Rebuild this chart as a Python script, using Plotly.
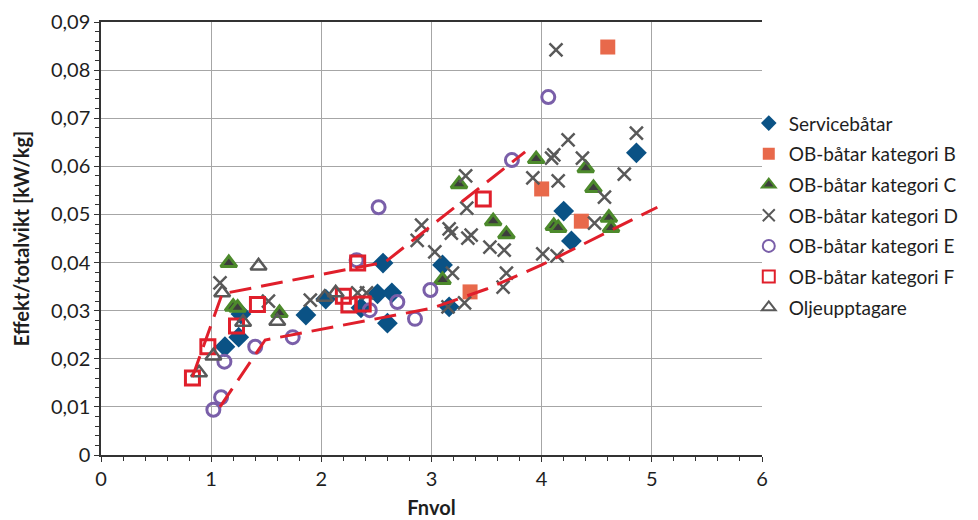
import plotly.graph_objects as go

# ---------------- data ----------------
service_x = [1.125, 1.25, 1.27, 1.86, 2.04, 2.36, 2.51, 2.64, 2.56, 2.60, 3.10, 3.16, 4.20, 4.27, 4.86]
service_y = [0.0225, 0.0245, 0.0293, 0.0291, 0.0324, 0.0306, 0.0335, 0.0337, 0.0399, 0.0274, 0.0395, 0.0308, 0.0507, 0.0445, 0.0628]

kat_b_x = [4.60, 4.00, 4.36, 3.35]
kat_b_y = [0.0848, 0.0553, 0.0486, 0.0339]

kat_c_x = [1.16, 1.20, 1.24, 1.62, 3.25, 3.95, 4.40, 4.47, 3.56, 3.68, 4.11, 4.15, 4.61, 4.63, 3.10]
kat_c_y = [0.0399, 0.0308, 0.0306, 0.0295, 0.0563, 0.0615, 0.0596, 0.0555, 0.0486, 0.0459, 0.0476, 0.0472, 0.0493, 0.0472, 0.0364]

kat_d_x = [1.08, 1.52, 1.90, 2.33, 2.41, 2.87, 2.91, 3.03, 3.16, 3.18, 3.30, 3.15, 3.19, 3.31, 3.32,
           3.33, 3.36, 3.53, 3.66, 3.68, 3.65, 3.92, 4.01, 4.14, 4.09, 4.11, 4.13, 4.15, 4.24, 4.37,
           4.48, 4.57, 4.75, 4.86]
kat_d_y = [0.0358, 0.0320, 0.0322, 0.0337, 0.0337, 0.0446, 0.0478, 0.0422, 0.0470, 0.0461, 0.0316, 0.0308, 0.0378, 0.0580, 0.0513,
           0.0451, 0.0457, 0.0432, 0.0426, 0.0378, 0.0349, 0.0576, 0.0418, 0.0414, 0.0617, 0.0624, 0.0842, 0.0570, 0.0655, 0.0617,
           0.0482, 0.0536, 0.0584, 0.0669]

kat_e_x = [1.02, 1.09, 1.12, 1.40, 1.74, 2.32, 2.44, 2.52, 2.69, 2.85, 2.99, 3.73, 4.06]
kat_e_y = [0.0094, 0.0120, 0.0194, 0.0225, 0.0245, 0.0405, 0.0301, 0.0515, 0.0318, 0.0283, 0.0343, 0.0613, 0.0744]

kat_f_x = [0.83, 0.97, 1.23, 1.42, 2.20, 2.25, 2.38, 2.33, 3.47]
kat_f_y = [0.0160, 0.0225, 0.0268, 0.0313, 0.0330, 0.0312, 0.0314, 0.0399, 0.0532]

olje_x = [0.89, 1.02, 1.10, 1.29, 1.43, 1.60, 2.03, 2.13]
olje_y = [0.0171, 0.0206, 0.0337, 0.0276, 0.0393, 0.0278, 0.0328, 0.0337]

upper_x = [0.83, 1.10, 2.58, 3.85]
upper_y = [0.0162, 0.0335, 0.0401, 0.0630]
lower_x = [1.08, 1.49, 3.00, 3.50, 4.00, 5.05]
lower_y = [0.0100, 0.0239, 0.0305, 0.0345, 0.0395, 0.0515]

x_tickvals = [0, 1, 2, 3, 4, 5, 6]
x_ticktext = ["0", "1", "2", "3", "4", "5", "6"]
y_tickvals = [0, 0.01, 0.02, 0.03, 0.04, 0.05, 0.06, 0.07, 0.08, 0.09]
y_ticktext = ["0", "0,01", "0,02", "0,03", "0,04", "0,05", "0,06", "0,07", "0,08", "0,09"]

# ---------------- figure ----------------
FONT = "Lato"
TXT = "#1e1e1e"
fig = go.Figure()

def add(x, y, name, marker, grp):
    fig.add_trace(go.Scatter(x=x, y=y, mode="markers", name=name, marker=marker,
                             legendgroup=grp))

add(service_x, service_y, "Servicebåtar",
    dict(symbol="diamond", size=16, color="#0a5285", line=dict(width=0)), "a")
add(kat_b_x, kat_b_y, "OB-båtar kategori B",
    dict(symbol="square", size=15, color="#e8694b", line=dict(width=0)), "b")
add(kat_c_x, kat_c_y, "OB-båtar kategori C",
    dict(symbol="triangle-up", size=14, color="#3d3d3d", line=dict(width=3, color="#4d8a2c")), "c")
add(kat_d_x, kat_d_y, "OB-båtar kategori D",
    dict(symbol="x-thin", size=13, color="#595959", line=dict(width=2.5, color="#595959")), "d")
add(kat_e_x, kat_e_y, "OB-båtar kategori E",
    dict(symbol="circle-open", size=13, color="#7a5fa9", line=dict(width=3, color="#7a5fa9")), "e")
add(kat_f_x, kat_f_y, "OB-båtar kategori F",
    dict(symbol="square-open", size=14, color="#e01f2b", line=dict(width=3, color="#e01f2b")), "f")
add(olje_x, olje_y, "Oljeupptagare",
    dict(symbol="triangle-up-open", size=14, color="#595959", line=dict(width=2.5, color="#595959")), "g")

for lx, ly in ((upper_x, upper_y), (lower_x, lower_y)):
    fig.add_trace(go.Scatter(x=lx, y=ly, mode="lines", showlegend=False, hoverinfo="skip",
                             line=dict(color="#e01f2b", width=3, dash="22px,10px")))

fig.update_layout(
    width=978, height=520,
    margin=dict(l=101, r=216, t=22, b=65),
    paper_bgcolor="white", plot_bgcolor="white",
    font=dict(family=FONT, size=20, color=TXT),
    showlegend=True,
    legend=dict(x=0.98, xanchor="left", y=0.81, yanchor="top",
                font=dict(family=FONT, size=19, color=TXT),
                tracegroupgap=3, itemsizing="constant",
                bgcolor="rgba(0,0,0,0)"),
)

fig.update_xaxes(
    range=[0, 6], tickvals=x_tickvals, ticktext=x_ticktext, automargin=False,
    showgrid=True, gridcolor="#a6a6a6", gridwidth=1.2,
    showline=True, linecolor="#333333", linewidth=1.5, mirror=True,
    ticks="outside", ticklen=5, tickcolor="#333333", tickwidth=1.2,
    minor=dict(dtick=0.2, ticks="outside", ticklen=4, tickcolor="#333333", showgrid=False),
    zeroline=False,
    title=dict(text="<b>Fnvol</b>", font=dict(family=FONT, size=20, color=TXT), standoff=12),
    tickfont=dict(family=FONT, size=20, color=TXT),
)
fig.update_yaxes(
    range=[0, 0.09], tickvals=y_tickvals, ticktext=y_ticktext, automargin=False,
    showgrid=True, gridcolor="#a6a6a6", gridwidth=1.2,
    showline=True, linecolor="#333333", linewidth=1.5,
    ticks="outside", ticklen=5, tickcolor="#333333", tickwidth=1.2,
    minor=dict(dtick=0.002, ticks="outside", ticklen=4, tickcolor="#333333", showgrid=False),
    zeroline=False,
    title=dict(text="<b>Effekt/totalvikt [kW/kg]</b>", font=dict(family=FONT, size=20, color=TXT), standoff=16),
    tickfont=dict(family=FONT, size=20, color=TXT),
)

fig.write_html("out.html")
